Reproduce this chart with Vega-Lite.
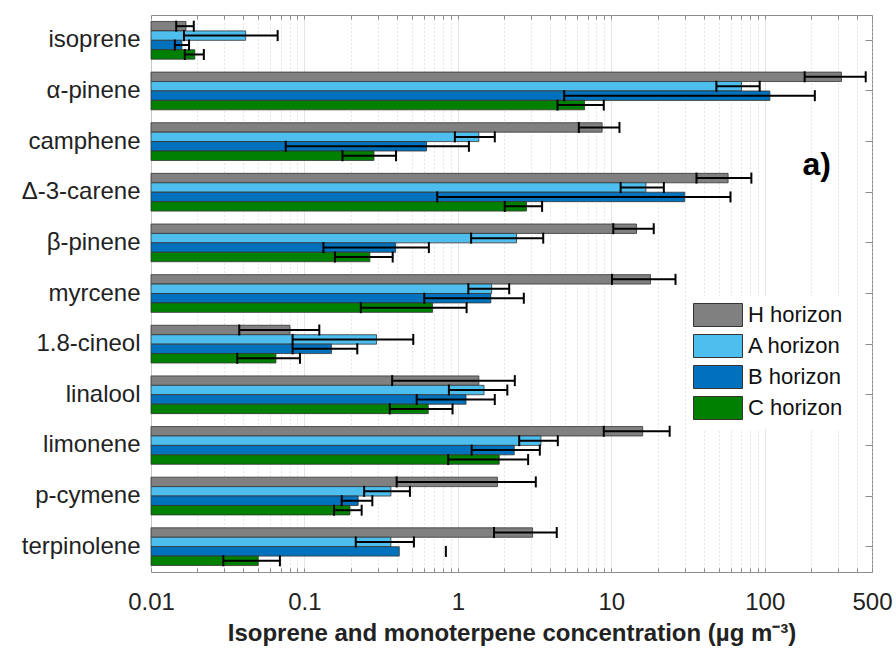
{
  "$schema": "https://vega.github.io/schema/vega-lite/v6.json",
  "autosize": {"type": "none"},
  "padding": {"left": 151, "top": 15, "right": 24, "bottom": 81},
  "width": 721,
  "height": 557,
  "background": "white",
  "config": {
    "view": {"stroke": "#8c8c8c", "strokeWidth": 1},
    "font": "Liberation Sans"
  },
  "datasets": {
    "conc": [
      {"compound": "isoprene", "horizon": "H horizon", "mean": 0.0169, "lo": 0.0146, "hi": 0.019},
      {"compound": "isoprene", "horizon": "A horizon", "mean": 0.0414, "lo": 0.0164, "hi": 0.0669},
      {"compound": "isoprene", "horizon": "B horizon", "mean": 0.0159, "lo": 0.0143, "hi": 0.0177},
      {"compound": "isoprene", "horizon": "C horizon", "mean": 0.0193, "lo": 0.0166, "hi": 0.0221},
      {"compound": "α-pinene", "horizon": "H horizon", "mean": 316, "lo": 182, "hi": 455},
      {"compound": "α-pinene", "horizon": "A horizon", "mean": 70.5, "lo": 48.4, "hi": 92.7},
      {"compound": "α-pinene", "horizon": "B horizon", "mean": 108, "lo": 4.93, "hi": 212},
      {"compound": "α-pinene", "horizon": "C horizon", "mean": 6.7, "lo": 4.46, "hi": 8.93},
      {"compound": "camphene", "horizon": "H horizon", "mean": 8.71, "lo": 6.14, "hi": 11.3},
      {"compound": "camphene", "horizon": "A horizon", "mean": 1.37, "lo": 0.956, "hi": 1.74},
      {"compound": "camphene", "horizon": "B horizon", "mean": 0.625, "lo": 0.0755, "hi": 1.18},
      {"compound": "camphene", "horizon": "C horizon", "mean": 0.284, "lo": 0.177, "hi": 0.395},
      {"compound": "Δ-3-carene", "horizon": "H horizon", "mean": 57.7, "lo": 35.9, "hi": 81.8},
      {"compound": "Δ-3-carene", "horizon": "A horizon", "mean": 16.8, "lo": 11.5, "hi": 22.0},
      {"compound": "Δ-3-carene", "horizon": "B horizon", "mean": 30.1, "lo": 0.733, "hi": 59.8},
      {"compound": "Δ-3-carene", "horizon": "C horizon", "mean": 2.8, "lo": 2.02, "hi": 3.54},
      {"compound": "β-pinene", "horizon": "H horizon", "mean": 14.6, "lo": 10.3, "hi": 18.9},
      {"compound": "β-pinene", "horizon": "A horizon", "mean": 2.41, "lo": 1.22, "hi": 3.6},
      {"compound": "β-pinene", "horizon": "B horizon", "mean": 0.393, "lo": 0.133, "hi": 0.647},
      {"compound": "β-pinene", "horizon": "C horizon", "mean": 0.267, "lo": 0.158, "hi": 0.376},
      {"compound": "myrcene", "horizon": "H horizon", "mean": 18.0, "lo": 10.1, "hi": 26.2},
      {"compound": "myrcene", "horizon": "A horizon", "mean": 1.66, "lo": 1.17, "hi": 2.16},
      {"compound": "myrcene", "horizon": "B horizon", "mean": 1.64, "lo": 0.604, "hi": 2.69},
      {"compound": "myrcene", "horizon": "C horizon", "mean": 0.684, "lo": 0.233, "hi": 1.14},
      {"compound": "1.8-cineol", "horizon": "H horizon", "mean": 0.0805, "lo": 0.0376, "hi": 0.125},
      {"compound": "1.8-cineol", "horizon": "A horizon", "mean": 0.295, "lo": 0.0837, "hi": 0.512},
      {"compound": "1.8-cineol", "horizon": "B horizon", "mean": 0.15, "lo": 0.0837, "hi": 0.221},
      {"compound": "1.8-cineol", "horizon": "C horizon", "mean": 0.0652, "lo": 0.0365, "hi": 0.0935},
      {"compound": "linalool", "horizon": "H horizon", "mean": 1.37, "lo": 0.373, "hi": 2.35},
      {"compound": "linalool", "horizon": "A horizon", "mean": 1.48, "lo": 0.874, "hi": 2.1},
      {"compound": "linalool", "horizon": "B horizon", "mean": 1.13, "lo": 0.539, "hi": 1.74},
      {"compound": "linalool", "horizon": "C horizon", "mean": 0.641, "lo": 0.36, "hi": 0.923},
      {"compound": "limonene", "horizon": "H horizon", "mean": 16.0, "lo": 8.93, "hi": 24.0},
      {"compound": "limonene", "horizon": "A horizon", "mean": 3.48, "lo": 2.51, "hi": 4.48},
      {"compound": "limonene", "horizon": "B horizon", "mean": 2.33, "lo": 1.23, "hi": 3.42},
      {"compound": "limonene", "horizon": "C horizon", "mean": 1.86, "lo": 0.865, "hi": 2.87},
      {"compound": "p-cymene", "horizon": "H horizon", "mean": 1.81, "lo": 0.399, "hi": 3.22},
      {"compound": "p-cymene", "horizon": "A horizon", "mean": 0.366, "lo": 0.245, "hi": 0.487},
      {"compound": "p-cymene", "horizon": "B horizon", "mean": 0.224, "lo": 0.175, "hi": 0.277},
      {"compound": "p-cymene", "horizon": "C horizon", "mean": 0.198, "lo": 0.156, "hi": 0.236},
      {"compound": "terpinolene", "horizon": "H horizon", "mean": 3.07, "lo": 1.72, "hi": 4.41},
      {"compound": "terpinolene", "horizon": "A horizon", "mean": 0.366, "lo": 0.216, "hi": 0.517},
      {"compound": "terpinolene", "horizon": "B horizon", "mean": 0.415, "lo": null, "hi": 0.835},
      {"compound": "terpinolene", "horizon": "C horizon", "mean": 0.05, "lo": 0.0296, "hi": 0.0692}
    ],
    "panel": [
      {"label": "a)", "pos": 218, "compound": "camphene"}
    ]
  },
  "resolve": {"axis": {"x": "independent", "y": "independent"}},
  "layer": [
    {
      "data": {"name": "conc"},
      "mark": {"type": "bar", "stroke": "#333333", "strokeWidth": 0.8},
      "encoding": {
        "y": {
          "field": "compound", "type": "nominal",
          "scale": {"domain": ["isoprene", "α-pinene", "camphene", "Δ-3-carene", "β-pinene", "myrcene", "1.8-cineol", "linalool", "limonene", "p-cymene", "terpinolene"], "paddingInner": 0.255, "paddingOuter": 0.1275},
          "axis": {"orient": "left", "title": null, "ticks": false, "domain": false, "labelFontSize": 24, "labelFont": "Liberation Sans", "labelColor": "#222222", "labelPadding": 11}
        },
        "yOffset": {
          "field": "horizon", "type": "nominal",
          "scale": {"domain": ["H horizon", "A horizon", "B horizon", "C horizon"], "paddingInner": 0, "paddingOuter": 0}
        },
        "x": {
          "field": "mean", "type": "quantitative",
          "scale": {"type": "log", "domain": [0.01, 500], "nice": false},
          "axis": {
            "orient": "bottom",
            "values": [0.01, 0.02, 0.03, 0.04, 0.05, 0.06, 0.07, 0.08, 0.09, 0.1, 0.2, 0.3, 0.4, 0.5, 0.6, 0.7, 0.8, 0.9, 1, 2, 3, 4, 5, 6, 7, 8, 9, 10, 20, 30, 40, 50, 60, 70, 80, 90, 100, 200, 300, 400, 500],
            "format": "~g",
            "labelExpr": "indexof([0.01, 0.1, 1, 10, 100, 500], datum.value) >= 0 ? datum.label : ''",
            "labelFlush": false,
            "labelOverlap": false,
            "labelFontSize": 24,
            "labelFont": "Liberation Sans",
            "labelColor": "#222222",
            "labelPadding": 22,
            "tickSize": -4,
            "tickColor": "#8c8c8c",
            "domain": false,
            "grid": true,
            "gridColor": {"condition": {"test": "indexof([0.01, 0.1, 1, 10, 100], datum.value) >= 0", "value": "#dadada"}, "value": "#cdcdcd"},
            "gridDash": {"condition": {"test": "indexof([0.01, 0.1, 1, 10, 100], datum.value) >= 0", "value": [1, 0]}, "value": [1, 3]},
            "title": "Isoprene and monoterpene concentration (µg m⁻³)",
            "titleFontSize": 24,
            "titleFont": "Liberation Sans",
            "titleFontWeight": "bold",
            "titleColor": "#222222",
            "titlePadding": 7
          }
        },
        "x2": {"datum": 0.01},
        "fill": {
          "field": "horizon", "type": "nominal",
          "scale": {"domain": ["H horizon", "A horizon", "B horizon", "C horizon"], "range": ["#808080", "#4DBEEE", "#0072BD", "#008000"]},
          "legend": {
            "orient": "none", "legendX": 535, "legendY": 281, "title": null,
            "symbolType": "M-2.13,-1H2.13V1H-2.13Z", "symbolSize": 529,
            "symbolStrokeColor": "#333333", "symbolStrokeWidth": 1,
            "symbolOffset": 13,
            "labelFontSize": 22, "labelFont": "Liberation Sans", "labelColor": "#111111",
            "labelOffset": 18,
            "fillColor": "white", "padding": 7, "rowPadding": 3
          }
        }
      }
    },
    {
      "data": {"name": "conc"},
      "mark": {"type": "rule", "color": "black", "strokeWidth": 2},
      "encoding": {
        "y": {
          "field": "compound", "type": "nominal",
          "axis": {"orient": "right", "title": null, "labels": false, "domain": false, "grid": false, "tickSize": -7, "tickColor": "#8c8c8c"}
        },
        "yOffset": {"field": "horizon", "type": "nominal"},
        "x": {
          "field": "lo", "type": "quantitative",
          "axis": {
            "orient": "top", "title": null, "labels": false, "domain": false, "grid": false,
            "values": [0.01, 0.02, 0.03, 0.04, 0.05, 0.06, 0.07, 0.08, 0.09, 0.1, 0.2, 0.3, 0.4, 0.5, 0.6, 0.7, 0.8, 0.9, 1, 2, 3, 4, 5, 6, 7, 8, 9, 10, 20, 30, 40, 50, 60, 70, 80, 90, 100, 200, 300, 400, 500],
            "tickSize": -4, "tickColor": "#8c8c8c"
          }
        },
        "x2": {"field": "hi"}
      }
    },
    {
      "data": {"name": "conc"},
      "mark": {"type": "tick", "color": "black", "thickness": 2, "size": 11, "opacity": 1},
      "encoding": {
        "y": {"field": "compound", "type": "nominal", "axis": null},
        "yOffset": {"field": "horizon", "type": "nominal"},
        "x": {"field": "lo", "type": "quantitative", "axis": null}
      }
    },
    {
      "data": {"name": "conc"},
      "mark": {"type": "tick", "color": "black", "thickness": 2, "size": 11, "opacity": 1},
      "encoding": {
        "y": {"field": "compound", "type": "nominal", "axis": null},
        "yOffset": {"field": "horizon", "type": "nominal"},
        "x": {"field": "hi", "type": "quantitative", "axis": null}
      }
    },
    {
      "data": {"name": "panel"},
      "mark": {"type": "text", "fontSize": 32, "fontWeight": "bold", "font": "Liberation Sans", "color": "black", "baseline": "middle", "align": "center", "dy": 23},
      "encoding": {
        "y": {"field": "compound", "type": "nominal", "axis": null},
        "x": {"field": "pos", "type": "quantitative", "axis": null},
        "text": {"field": "label"}
      }
    }
  ]
}
